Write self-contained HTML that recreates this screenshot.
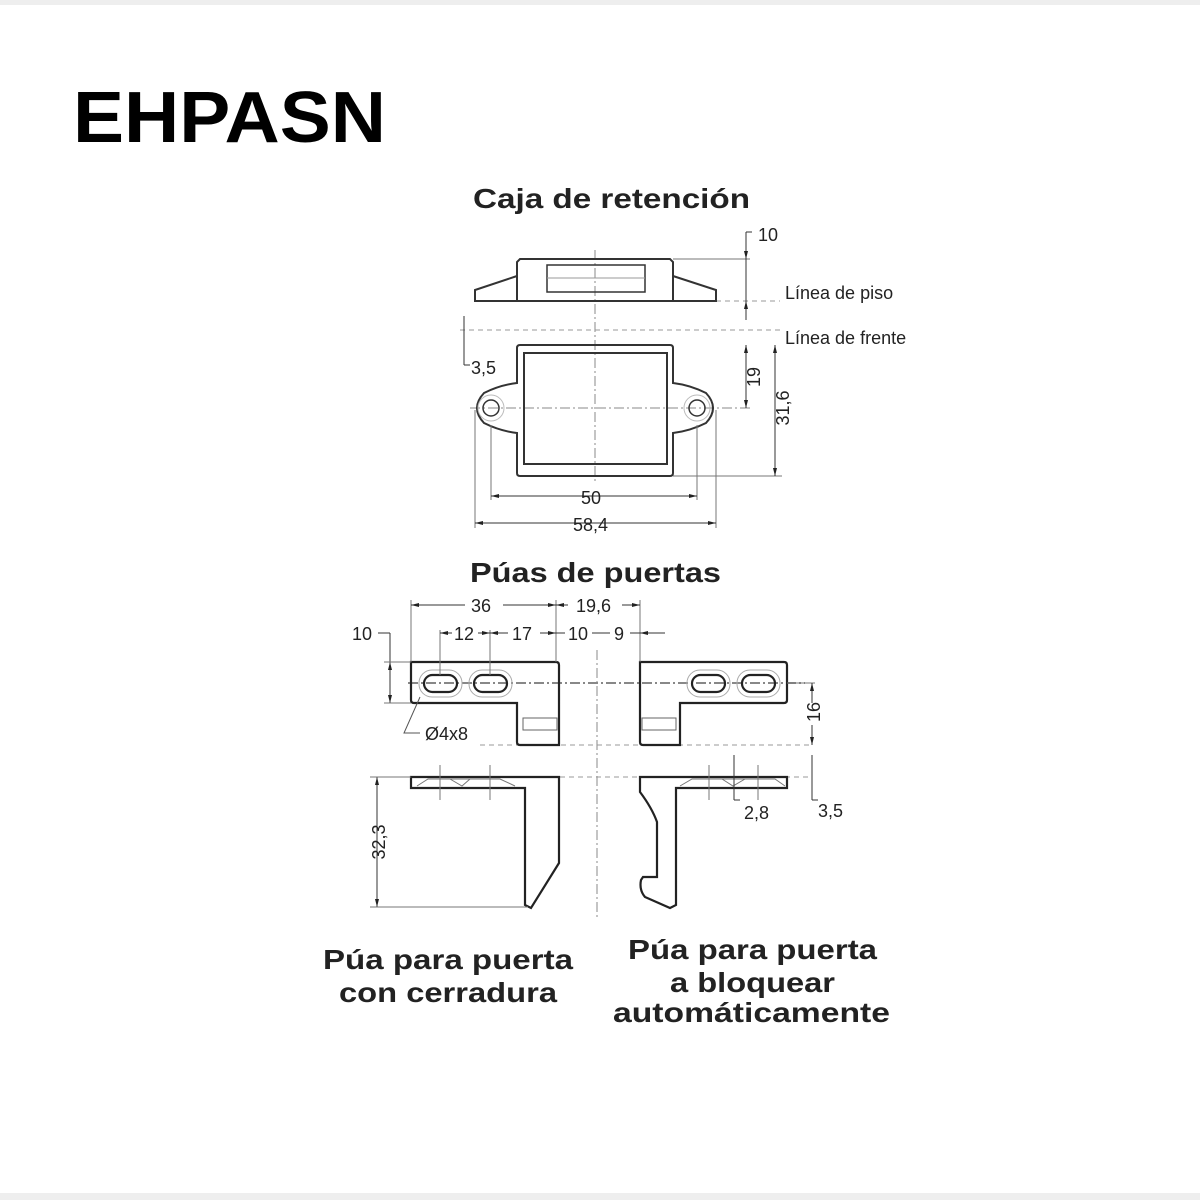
<!DOCTYPE html>
<html><head><meta charset="utf-8"><style>
html,body{margin:0;padding:0;background:#fff}
svg{display:block}
.b{font-family:"Liberation Sans",sans-serif;font-weight:bold;fill:#222}
.t{font-family:"Liberation Sans",sans-serif;fill:#222;font-size:18px}
</style></head><body>
<svg width="1200" height="1200" viewBox="0 0 1200 1200" xmlns="http://www.w3.org/2000/svg">
<rect x="0" y="0" width="1200" height="5" fill="#eee"/>
<rect x="0" y="1193" width="1200" height="7" fill="#eee"/>
<text x="73" y="142" class="b" style="font-size:72px;fill:#000" textLength="313" lengthAdjust="spacingAndGlyphs">EHPASN</text>
<text x="473" y="208" class="b" style="font-size:28px" textLength="277" lengthAdjust="spacingAndGlyphs">Caja de retención</text>
<text x="470" y="582" class="b" style="font-size:28px" textLength="251" lengthAdjust="spacingAndGlyphs">Púas de puertas</text>
<text x="323" y="969" class="b" style="font-size:28px" textLength="250" lengthAdjust="spacingAndGlyphs">Púa para puerta</text>
<text x="339" y="1002" class="b" style="font-size:28px" textLength="218" lengthAdjust="spacingAndGlyphs">con cerradura</text>
<text x="628" y="959" class="b" style="font-size:28px" textLength="249" lengthAdjust="spacingAndGlyphs">Púa para puerta</text>
<text x="670" y="992" class="b" style="font-size:28px" textLength="165" lengthAdjust="spacingAndGlyphs">a bloquear</text>
<text x="613" y="1022" class="b" style="font-size:28px" textLength="277" lengthAdjust="spacingAndGlyphs">automáticamente</text>

<g fill="none" stroke="#333" stroke-width="1">
<g stroke="#888" stroke-dasharray="10,3,2,3">
<line x1="595" y1="250" x2="595" y2="482"/>
<line x1="470" y1="408" x2="750" y2="408"/>
<line x1="597" y1="650" x2="597" y2="920"/>
<line x1="408" y1="683" x2="805" y2="683" stroke-width="2"/>
</g>
<g stroke="#999" stroke-dasharray="5,4">
<line x1="716" y1="301" x2="780" y2="301"/>
<line x1="460" y1="330" x2="780" y2="330"/>
<line x1="480" y1="745" x2="810" y2="745"/>
<line x1="560" y1="777" x2="810" y2="777"/>
</g>
<g stroke-width="2">
<path d="M517,301 L517,262 L520,259 L670,259 L673,262 L673,301"/>
<path d="M517,276 L475,290 L475,301 L716,301 L716,290 L673,276"/>
</g>
<rect x="547" y="265" width="98" height="27" stroke-width="1.5"/>
<line x1="547" y1="278" x2="645" y2="278" stroke="#999"/>
<path d="M517,348 Q517,345 520,345 L670,345 Q673,345 673,348 L673,383 Q690,385 706,393 Q720,408 706,423 Q690,431 673,433 L673,473 Q673,476 670,476 L520,476 Q517,476 517,473 L517,433 Q500,431 484,423 Q470,408 484,393 Q500,385 517,383 Z" stroke-width="2"/>
<rect x="524" y="353" width="143" height="111" stroke-width="2"/>
<circle cx="491" cy="408" r="8" stroke-width="1.5"/>
<circle cx="697" cy="408" r="8" stroke-width="1.5"/>
<circle cx="491" cy="408" r="13" stroke="#bbb"/>
<circle cx="697" cy="408" r="13" stroke="#bbb"/>
<line x1="673" y1="259" x2="750" y2="259" stroke="#777"/>
<line x1="746" y1="232" x2="746" y2="320"/>
<line x1="746" y1="232" x2="752" y2="232"/>
<line x1="673" y1="476" x2="782" y2="476" stroke="#777"/>
<line x1="746" y1="345" x2="746" y2="408"/>
<line x1="775" y1="345" x2="775" y2="476"/>
<line x1="464" y1="316" x2="464" y2="365"/>
<line x1="464" y1="365" x2="470" y2="365"/>
<line x1="491" y1="425" x2="491" y2="500" stroke="#777"/>
<line x1="697" y1="425" x2="697" y2="500" stroke="#777"/>
<line x1="475" y1="410" x2="475" y2="528" stroke="#777"/>
<line x1="716" y1="410" x2="716" y2="528" stroke="#777"/>
<line x1="491" y1="496" x2="697" y2="496"/>
<line x1="475" y1="523" x2="716" y2="523"/>
<g stroke-width="2.2" stroke="#222">
<path d="M411,662 L556,662 Q559,662 559,665 L559,745 L520,745 Q517,745 517,742 L517,703 L414,703 Q411,703 411,700 Z"/>
<path d="M640,662 L784,662 Q787,662 787,665 L787,700 Q787,703 784,703 L680,703 L680,745 L643,745 Q640,745 640,742 Z"/>
<rect x="424" y="675" width="33" height="17" rx="8.5"/>
<rect x="474" y="675" width="33" height="17" rx="8.5"/>
<rect x="692" y="675" width="33" height="17" rx="8.5"/>
<rect x="742" y="675" width="33" height="17" rx="8.5"/>
</g>
<g stroke="#aaa">
<rect x="419" y="670" width="43" height="27" rx="13"/>
<rect x="469" y="670" width="43" height="27" rx="13"/>
<rect x="687" y="670" width="43" height="27" rx="13"/>
<rect x="737" y="670" width="43" height="27" rx="13"/>
</g>
<rect x="523" y="718" width="34" height="12" stroke="#666"/>
<rect x="642" y="718" width="34" height="12" stroke="#666"/>
<g stroke-width="2.2" stroke="#222">
<path d="M411,777 L559,777 L559,863 L531,908 L525,905 L525,788 L411,788 Z"/>
<path d="M640,777 L787,777 L787,788 L676,788 L676,905 L670,908 L645,897 Q639,890 641,880 L643,877 L657,877 L657,822 Q652,808 640,792 Z"/>
</g>
<path d="M417,786 L428,779 L500,779 L515,786 M450,779 L462,786 L470,779" stroke="#777"/>
<path d="M680,786 L692,779 L775,779 L785,786 M722,779 L733,786 L745,779" stroke="#777"/>
<line x1="440" y1="765" x2="440" y2="800" stroke="#777"/>
<line x1="490" y1="765" x2="490" y2="800" stroke="#777"/>
<line x1="709" y1="765" x2="709" y2="800" stroke="#777"/>
<line x1="758" y1="765" x2="758" y2="800" stroke="#777"/>
<line x1="411" y1="600" x2="411" y2="662" stroke="#777"/>
<line x1="556" y1="600" x2="556" y2="662" stroke="#777"/>
<line x1="640" y1="600" x2="640" y2="662" stroke="#777"/>
<line x1="440" y1="630" x2="440" y2="675" stroke="#777"/>
<line x1="490" y1="630" x2="490" y2="675" stroke="#777"/>
<line x1="411" y1="605" x2="465" y2="605"/>
<line x1="503" y1="605" x2="568" y2="605"/>
<line x1="622" y1="605" x2="640" y2="605"/>
<line x1="440" y1="633" x2="452" y2="633"/>
<line x1="478" y1="633" x2="508" y2="633"/>
<line x1="540" y1="633" x2="565" y2="633"/>
<line x1="592" y1="633" x2="610" y2="633"/>
<line x1="630" y1="633" x2="665" y2="633"/>
<line x1="378" y1="633" x2="390" y2="633"/>
<line x1="390" y1="633" x2="390" y2="703"/>
<line x1="384" y1="662" x2="411" y2="662" stroke="#777"/>
<line x1="384" y1="703" x2="411" y2="703" stroke="#777"/>
<path d="M420,697 L404,733 L420,733" stroke="#555"/>
<line x1="787" y1="683" x2="815" y2="683" stroke="#777"/>
<line x1="812" y1="683" x2="812" y2="703"/>
<line x1="812" y1="725" x2="812" y2="745"/>
<line x1="812" y1="755" x2="812" y2="800"/>
<line x1="812" y1="800" x2="818" y2="800"/>
<line x1="734" y1="755" x2="734" y2="800"/>
<line x1="734" y1="800" x2="740" y2="800"/>
<line x1="377" y1="777" x2="377" y2="907"/>
<line x1="370" y1="777" x2="411" y2="777" stroke="#777"/>
<line x1="370" y1="907" x2="528" y2="907" stroke="#777"/>
</g>
<g fill="#222">
<path d="M746,259 l-2,-8 h4z M746,301 l-2,8 h4z M746,345 l-2,8 h4z M746,408 l-2,-8 h4z M775,345 l-2,8 h4z M775,476 l-2,-8 h4z"/>
<path d="M491,496 l8,-2 v4z M697,496 l-8,-2 v4z M475,523 l8,-2 v4z M716,523 l-8,-2 v4z"/>
<path d="M411,605 l8,-2 v4z M556,605 l-8,-2 v4z M556,605 l8,-2 v4z M640,605 l-8,-2 v4z"/>
<path d="M440,633 l8,-2 v4z M490,633 l-8,-2 v4z M490,633 l8,-2 v4z M556,633 l-8,-2 v4z M640,633 l8,-2 v4z"/>
<path d="M390,662 l-2,8 h4z M390,703 l-2,-8 h4z M812,683 l-2,8 h4z M812,745 l-2,-8 h4z M377,777 l-2,8 h4z M377,907 l-2,-8 h4z"/>
</g>
<text x="758" y="241" class="t">10</text>
<text x="785" y="299" class="t">Línea de piso</text>
<text x="785" y="344" class="t">Línea de frente</text>
<text x="471" y="374" class="t">3,5</text>
<text x="581" y="504" class="t">50</text>
<text x="573" y="531" class="t">58,4</text>
<text transform="translate(760,377) rotate(-90)" class="t" text-anchor="middle">19</text>
<text transform="translate(789,408) rotate(-90)" class="t" text-anchor="middle">31,6</text>
<text x="471" y="612" class="t">36</text>
<text x="576" y="612" class="t">19,6</text>
<text x="352" y="640" class="t">10</text>
<text x="454" y="640" class="t">12</text>
<text x="512" y="640" class="t">17</text>
<text x="568" y="640" class="t">10</text>
<text x="614" y="640" class="t">9</text>
<text x="425" y="740" class="t">Ø4x8</text>
<text transform="translate(820,712) rotate(-90)" class="t" text-anchor="middle">16</text>
<text x="744" y="819" class="t">2,8</text>
<text x="818" y="817" class="t">3,5</text>
<text transform="translate(385,842) rotate(-90)" class="t" text-anchor="middle">32,3</text>
</svg>
</body></html>
